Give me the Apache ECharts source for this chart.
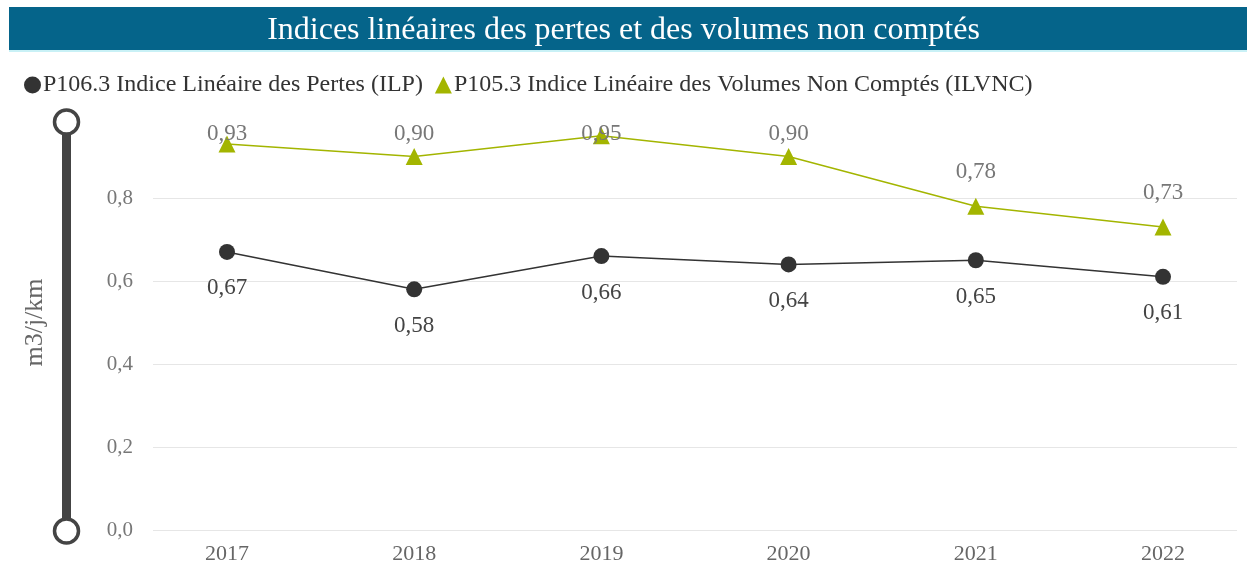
<!DOCTYPE html>
<html><head><meta charset="utf-8">
<script src="https://cdn.jsdelivr.net/npm/echarts@6/dist/echarts.min.js"></script>
<style>html,body{margin:0;padding:0;background:#fff}#c{width:1247px;height:579px}</style>
</head><body><div id="c"></div>
<script>
const titleText = 'Indices linéaires des pertes et des volumes non comptés';
const years = ['2017','2018','2019','2020','2021','2022'];
const ilpName = 'P106.3 Indice Linéaire des Pertes (ILP)';
const ilvncName = 'P105.3 Indice Linéaire des Volumes Non Comptés (ILVNC)';
const ilp = [0.67, 0.58, 0.66, 0.64, 0.65, 0.61];
const ilvnc = [0.93, 0.90, 0.95, 0.90, 0.78, 0.73];
const yTicks = [0, 0.2, 0.4, 0.6, 0.8, 1.0];
const yName = 'm3/j/km';

const FONT = 'Liberation Serif';
const fmt = v => v.toFixed(2).replace('.', ',');
const chart = echarts.init(document.getElementById('c'), null, {renderer: 'canvas'});
const yMin = yTicks[0], yMax = yTicks[yTicks.length - 1], yStep = yTicks[1] - yTicks[0];

chart.setOption({
  animation: false,
  backgroundColor: '#ffffff',
  title: {
    text: titleText, left: 'center', top: 10,
    textStyle: {color: '#ffffff', fontFamily: FONT, fontSize: 32, fontWeight: 'normal'}
  },
  graphic: [
    {type: 'rect', z: -1, shape: {x: 9, y: 7, width: 1240, height: 43}, style: {fill: '#05648a'}},
    {type: 'rect', z: -1, shape: {x: 9, y: 50, width: 1240, height: 2}, style: {fill: '#c9f1f6'}},
    {type: 'rect', shape: {x: 62, y: 122, width: 9, height: 409}, style: {fill: '#444444'}},
    {type: 'circle', shape: {cx: 66.5, cy: 122, r: 12}, style: {fill: '#ffffff', stroke: '#444444', lineWidth: 3.5}},
    {type: 'circle', shape: {cx: 66.5, cy: 531, r: 12}, style: {fill: '#ffffff', stroke: '#444444', lineWidth: 3.5}}
  ],
  legend: {
    left: 19, top: 68, itemWidth: 17, itemHeight: 17, itemGap: 12,
    textStyle: {color: '#333333', fontFamily: FONT, fontSize: 24, padding: [0,0,0,-3]},
    data: [{name: ilpName, icon: 'circle'}, {name: ilvncName, icon: 'triangle'}]
  },
  grid: [
    {left: 153, right: 10, top: 115, bottom: 49},
    {left: 227, right: 84, top: 115, bottom: 49}
  ],
  xAxis: [
    {gridIndex: 0, type: 'value', min: 0, max: 1, show: false},
    {gridIndex: 1, type: 'category', data: years, boundaryGap: false,
     axisLine: {show: false}, axisTick: {show: false},
     axisLabel: {color: '#666666', fontFamily: FONT, fontSize: 22, margin: 13}}
  ],
  yAxis: [
    {gridIndex: 0, type: 'value', min: yMin, max: yMax, interval: yStep,
     name: yName, nameLocation: 'middle', nameGap: 105,
     nameTextStyle: {color: '#666666', fontFamily: FONT, fontSize: 26, padding: [0, 0, 0, 0]},
     axisLine: {show: false}, axisTick: {show: false},
     axisLabel: {color: '#777777', fontFamily: FONT, fontSize: 21, margin: 20, showMaxLabel: false,
                 formatter: v => v.toFixed(1).replace('.', ',')},
     splitLine: {show: true, showMaxLine: false, lineStyle: {color: '#e6e6e6', width: 1}}},
    {gridIndex: 1, type: 'value', min: yMin, max: yMax, show: false, splitLine: {show: false}}
  ],
  series: [
    {
      name: ilpName, type: 'line', xAxisIndex: 1, yAxisIndex: 1, data: ilp,
      symbol: 'circle', symbolSize: 16,
      itemStyle: {color: '#333333'}, lineStyle: {color: '#333333', width: 1.5},
      label: {show: true, position: 'bottom', distance: 17, formatter: p => fmt(p.value),
              color: '#444444', fontFamily: FONT, fontSize: 23}
    },
    {
      name: ilvncName, type: 'line', xAxisIndex: 1, yAxisIndex: 1, data: ilvnc,
      symbol: 'triangle', symbolSize: 17,
      itemStyle: {color: '#a3b500'}, lineStyle: {color: '#a3b500', width: 1.5},
      label: {show: true, position: 'top', distance: 14, formatter: p => fmt(p.value),
              color: '#777777', fontFamily: FONT, fontSize: 23},
      labelLayout: function (params) {
        const r = params.labelRect;
        return {x: r.x + r.width / 2, y: Math.max(r.y, 122), align: 'center', verticalAlign: 'top'};
      }
    }
  ]
});
</script></body></html>
